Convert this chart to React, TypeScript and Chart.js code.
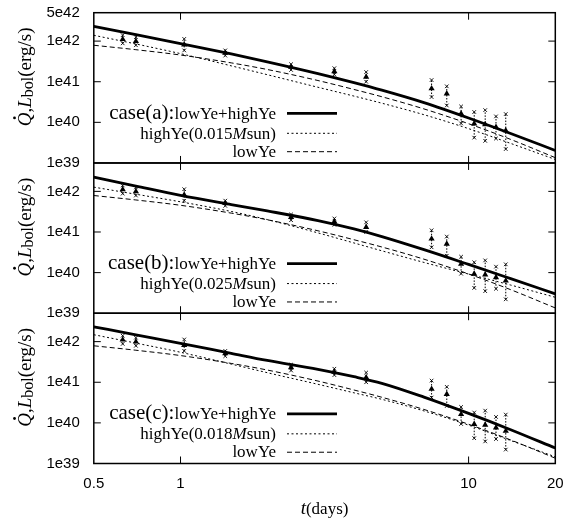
import React, { useEffect, useRef } from "react";
import { Chart, registerables } from "chart.js";

Chart.register(...registerables);

// model curves sampled at these times (days)
const tModel = [0.5, 0.7, 1, 1.5, 2, 3, 4, 5, 7, 10, 14, 20];
// case (a)
const sumA = [2.3e42, 1.44e42, 8.7e41, 4.84e41, 3.1e41, 1.59e41, 9.5e40, 6.2e40, 3.06e40, 1.28e40, 5.3e39, 2.03e39];
const highA = [1.39e42, 8.5e41, 4.91e41, 2.46e41, 1.49e41, 7.3e40, 4.43e40, 2.96e40, 1.54e40, 7.0e39, 3.03e39, 1.22e39];
// case (b)
const sumB = [2.23e42, 1.35e42, 8.0e41, 4.73e41, 3.3e41, 1.91e41, 1.19e41, 7.7e40, 3.67e40, 1.59e40, 7.1e39, 3.0e39];
const highB = [1.27e42, 8.5e41, 5.53e41, 3.2e41, 2.02e41, 9.5e40, 5.37e40, 3.44e40, 1.78e40, 9.2e39, 4.94e39, 2.47e39];
// case (c)
const sumC = [2.32e42, 1.47e42, 9.1e41, 5.15e41, 3.45e41, 2.08e41, 1.37e41, 9.4e40, 4.3e40, 1.71e40, 6.8e39, 2.4e39];
const highC = [1.48e42, 9.2e41, 5.47e41, 2.8e41, 1.72e41, 8.9e40, 5.5e40, 3.8e40, 1.97e40, 8.8e39, 3.68e39, 1.46e39];
// lowYe component (same in every panel)
const lowYe = [7.9e41, 6.14e41, 4.54e41, 2.91e41, 2.0e41, 1.07e41, 6.45e40, 4.27e40, 2.14e40, 9.25e39, 3.8e39, 1.35e39];

// observed bolometric luminosity
const obsT = [0.63, 0.7, 1.03, 1.43, 2.42, 3.42, 4.41, 7.44, 8.4, 9.42, 10.46, 11.42, 12.45, 13.46];
const obsL = [1.11e42, 9.9e41, 8.2e41, 5.1e41, 2.3e41, 1.8e41, 1.31e41, 6.8e40, 5.1e40, 1.63e40, 9.3e39, 8.9e39, 7.6e39, 6.3e39];
const obsLo = [8.8e41, 7.9e41, 5.9e41, 4.4e41, 1.95e41, 1.5e41, 1.0e41, 4.2e40, 2.6e40, 9.4e39, 4.2e39, 3.5e39, 4.0e39, 2.2e39];
const obsHi = [1.4e42, 1.25e42, 1.13e42, 5.9e41, 2.7e41, 2.15e41, 1.73e41, 1.1e41, 7.7e40, 2.46e40, 1.8e40, 2.0e40, 1.4e40, 1.6e40];

const xTicks = [0.5, 1, 10, 20];
const xInnerTicks = [1, 10];
const yTicksTop = [1e39, 1e40, 1e41, 1e42, 5e42];
const yTicksOther = [1e39, 1e40, 1e41, 1e42];
const yInnerTicks = [1e40, 1e41, 1e42];

const panelIds = ["yA", "yB", "yC"];
const caseLabels = ["case(a):", "case(b):", "case(c):"];
const highMasses = ["0.015", "0.025", "0.018"];
const sums = [sumA, sumB, sumC];
const highs = [highA, highB, highC];

const SANS = "'Liberation Sans', Arial, sans-serif";
const SERIF = "'Liberation Serif', 'DejaVu Serif', serif";

function fmtExp(v: number): string {
  const e = Math.floor(Math.log10(v) + 1e-9);
  const m = Math.round(v / Math.pow(10, e));
  return `${m}e${e}`;
}

function pts(xs: number[], ys: number[]) {
  return xs.map((x, i) => ({ x, y: ys[i] }));
}

function zeroPad(s: any) {
  s.paddingTop = 0;
  s.paddingBottom = 0;
  s.paddingLeft = 0;
  s.paddingRight = 0;
}

function yScale(ticks: number[]) {
  return {
    type: "logarithmic",
    position: "left",
    stack: "panels",
    stackWeight: 1,
    min: 1e39,
    max: 5e42,
    grid: { display: false, drawTicks: false },
    border: { display: false },
    afterBuildTicks: (s: any) => {
      s.ticks = ticks.map((v) => ({ value: v }));
    },
    afterFit: (s: any) => {
      s.width = 93.8;
      zeroPad(s);
    },
    ticks: {
      autoSkip: false,
      padding: 14,
      color: "#000",
      font: { family: SANS, size: 15 },
      callback: (v: any) => fmtExp(Number(v)),
    },
  };
}

function drawSegments(ctx: CanvasRenderingContext2D, segs: { t: string; f: string; dy?: number }[], x0: number, y: number) {
  let x = x0;
  const pos: number[] = [];
  for (const s of segs) {
    ctx.font = s.f;
    pos.push(x);
    ctx.fillText(s.t, x, y + (s.dy || 0));
    x += ctx.measureText(s.t).width;
  }
  return pos;
}
function segWidth(ctx: CanvasRenderingContext2D, segs: { t: string; f: string }[]) {
  let w = 0;
  for (const s of segs) {
    ctx.font = s.f;
    w += ctx.measureText(s.t).width;
  }
  return w;
}

const decorPlugin = {
  id: "decor",
  afterDatasetsDraw(chart: any) {
    const ctx: CanvasRenderingContext2D = chart.ctx;
    const xs = chart.scales.x;
    ctx.save();
    ctx.strokeStyle = "#000";
    panelIds.forEach((id) => {
      const ys = chart.scales[id];
      obsT.forEach((t, i) => {
        const px = xs.getPixelForValue(t);
        const pLo = ys.getPixelForValue(obsLo[i]);
        const pHi = ys.getPixelForValue(obsHi[i]);
        ctx.lineWidth = 1;
        ctx.setLineDash([1.5, 1.5]);
        ctx.beginPath();
        ctx.moveTo(px, pLo);
        ctx.lineTo(px, pHi);
        ctx.stroke();
        ctx.setLineDash([]);
        ctx.lineWidth = 0.9;
        for (const py of [pLo, pHi]) {
          ctx.beginPath();
          ctx.moveTo(px - 1.8, py - 1.8);
          ctx.lineTo(px + 1.8, py + 1.8);
          ctx.moveTo(px + 1.8, py - 1.8);
          ctx.lineTo(px - 1.8, py + 1.8);
          ctx.stroke();
        }
      });
    });
    ctx.restore();
  },
  afterDraw(chart: any) {
    const ctx: CanvasRenderingContext2D = chart.ctx;
    const xs = chart.scales.x;
    const area = chart.chartArea;
    ctx.save();
    ctx.strokeStyle = "#000";
    ctx.fillStyle = "#000";
    ctx.setLineDash([]);
    panelIds.forEach((id, k) => {
      const ys = chart.scales[id];
      const top = ys.top;
      const bottom = ys.bottom;
      // frame
      ctx.lineWidth = 1.5;
      ctx.strokeRect(area.left, top, area.right - area.left, bottom - top);
      // inward ticks
      ctx.lineWidth = 1;
      ctx.beginPath();
      for (const xv of xInnerTicks) {
        const px = xs.getPixelForValue(xv);
        ctx.moveTo(px, top);
        ctx.lineTo(px, top + 7);
        ctx.moveTo(px, bottom);
        ctx.lineTo(px, bottom - 7);
      }
      for (const yv of yInnerTicks) {
        const py = ys.getPixelForValue(yv);
        ctx.moveTo(area.left, py);
        ctx.lineTo(area.left + 7, py);
        ctx.moveTo(area.right, py);
        ctx.lineTo(area.right - 7, py);
      }
      ctx.stroke();

      // legend
      const textRight = 276;
      const lx0 = 287;
      const lx1 = 337;
      const rows = [top + 100.6, top + 120.6, top + 139];
      ctx.textAlign = "left";
      ctx.textBaseline = "alphabetic";
      const row1 = [
        { t: caseLabels[k], f: `21px ${SERIF}` },
        { t: "lowYe+highYe", f: `17px ${SERIF}` },
      ];
      const row2 = [
        { t: "highYe(" + highMasses[k], f: `17px ${SERIF}` },
        { t: "M", f: `italic 17px ${SERIF}` },
        { t: "sun)", f: `17px ${SERIF}` },
      ];
      const row3 = [{ t: "lowYe", f: `17px ${SERIF}` }];
      [row1, row2, row3].forEach((segs, r) => {
        const w = segWidth(ctx, segs);
        drawSegments(ctx, segs, textRight - w, rows[r] + 5.2);
      });
      ctx.beginPath();
      ctx.lineWidth = 2.8;
      ctx.moveTo(lx0, rows[0]);
      ctx.lineTo(lx1, rows[0]);
      ctx.stroke();
      ctx.lineWidth = 1;
      ctx.setLineDash([2, 2.5]);
      ctx.beginPath();
      ctx.moveTo(lx0, rows[1]);
      ctx.lineTo(lx1, rows[1]);
      ctx.stroke();
      ctx.setLineDash([5, 3]);
      ctx.beginPath();
      ctx.moveTo(lx0, rows[2]);
      ctx.lineTo(lx1, rows[2]);
      ctx.stroke();
      ctx.setLineDash([]);

      // y title
      const cy = (top + bottom) / 2 - 11;
      ctx.save();
      ctx.translate(31, cy);
      ctx.rotate(-Math.PI / 2);
      const tsegs = [
        { t: "Q", f: `italic 19px ${SERIF}` },
        { t: ",", f: `19px ${SERIF}` },
        { t: "L", f: `italic 19px ${SERIF}` },
        { t: "bol", f: `16px ${SERIF}`, dy: 2 },
        { t: "(erg/s)", f: `19px ${SERIF}` },
      ];
      const tw = segWidth(ctx, tsegs);
      const pos = drawSegments(ctx, tsegs, -tw / 2, 0);
      ctx.font = `italic 19px ${SERIF}`;
      const qw = ctx.measureText("Q").width;
      ctx.beginPath();
      ctx.arc(pos[0] + qw * 0.6, -16.5, 1.4, 0, Math.PI * 2);
      ctx.fill();
      ctx.restore();
    });

    // x title
    const xsegs = [
      { t: "t", f: `italic 19px ${SERIF}` },
      { t: "(days)", f: `17px ${SERIF}` },
    ];
    const w = segWidth(ctx, xsegs);
    ctx.textAlign = "left";
    ctx.textBaseline = "alphabetic";
    drawSegments(ctx, xsegs, (area.left + area.right) / 2 - w / 2, 514);
    ctx.restore();
  },
};

export default function App() {
  const ref = useRef<HTMLCanvasElement | null>(null);
  useEffect(() => {
    if (!ref.current) return;
    const datasets: any[] = [];
    panelIds.forEach((id, k) => {
      datasets.push({
        data: pts(obsT, obsL),
        yAxisID: id,
        showLine: false,
        pointStyle: "triangle",
        pointRadius: 3.6,
        backgroundColor: "#000",
        borderColor: "#000",
        borderWidth: 0,
      });
      datasets.push({
        data: pts(tModel, sums[k]),
        yAxisID: id,
        borderColor: "#000",
        borderWidth: 2.8,
        pointRadius: 0,
        cubicInterpolationMode: "monotone",
        fill: false,
      });
      datasets.push({
        data: pts(tModel, highs[k]),
        yAxisID: id,
        borderColor: "#000",
        borderWidth: 1,
        borderDash: [2, 2.5],
        pointRadius: 0,
        cubicInterpolationMode: "monotone",
        fill: false,
      });
      datasets.push({
        data: pts(tModel, lowYe),
        yAxisID: id,
        borderColor: "#000",
        borderWidth: 1,
        borderDash: [5, 3],
        pointRadius: 0,
        cubicInterpolationMode: "monotone",
        fill: false,
      });
    });

    const chart = new Chart(ref.current, {
      type: "line",
      data: { datasets },
      options: {
        animation: false,
        responsive: false,
        layout: { padding: { left: 0, right: 9.7, top: 12.7, bottom: 0 }, autoPadding: false },
        plugins: { legend: { display: false }, tooltip: { enabled: false } },
        scales: {
          x: {
            type: "logarithmic",
            position: "bottom",
            min: 0.5,
            max: 20,
            grid: { display: false, drawTicks: false },
            border: { display: false },
            afterBuildTicks: (s: any) => {
              s.ticks = xTicks.map((v) => ({ value: v }));
            },
            afterFit: (s: any) => {
              s.height = 59.5;
              zeroPad(s);
            },
            ticks: {
              autoSkip: false,
              maxRotation: 0,
              padding: 11,
              color: "#000",
              font: { family: SANS, size: 15 },
              callback: (v: any) => String(v),
            },
          },
          yC: yScale(yTicksOther),
          yB: yScale(yTicksOther),
          yA: yScale(yTicksTop),
        } as any,
      },
      plugins: [decorPlugin],
    } as any);
    return () => chart.destroy();
  }, []);

  return (
    <div style={{ position: "absolute", left: 0, top: 0, width: 565, height: 523, background: "#fff" }}>
      <canvas ref={ref} width={565} height={523} style={{ width: 565, height: 523 }} />
    </div>
  );
}
